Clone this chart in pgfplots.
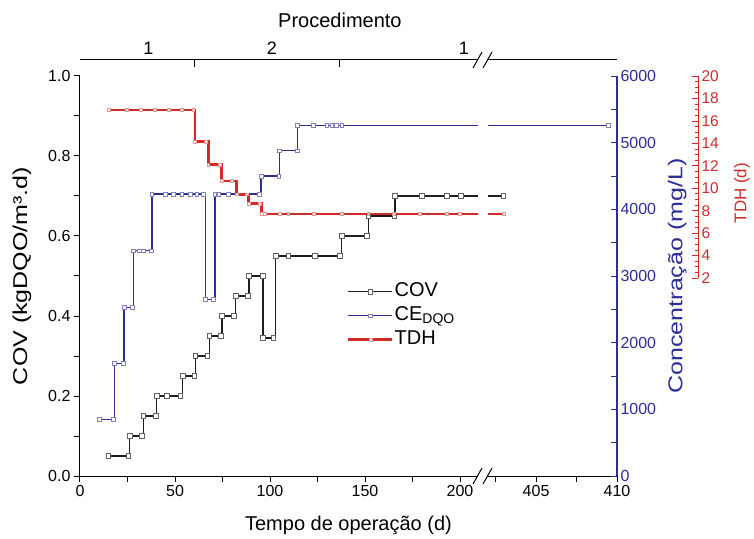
\documentclass[border=0pt]{standalone}
\usepackage{pgfplots}
\pgfplotsset{compat=1.18}
\usepackage{fontspec}
\setmainfont{Liberation Sans}
\definecolor{covc}{RGB}{30,30,30}
\definecolor{bluec}{RGB}{45,45,150}
\definecolor{redc}{RGB}{215,40,40}
\definecolor{redt}{RGB}{205,45,45}
\pgfplotsset{
  covstyle/.style={color=covc, line width=1.3pt, mark=square*, mark size=2.4pt,
    mark options={fill=white, draw=covc!70, line width=0.6pt, solid}},
  bluestyle/.style={color=bluec, line width=1.6pt, mark=square*, mark size=1.9pt,
    mark options={fill=white, draw=bluec!60, line width=0.5pt, solid}},
  redstyle/.style={color=redc, line width=2.6pt, mark=square*, mark size=1.4pt,
    mark options={fill=white, draw=redc!50, line width=0.4pt, solid}},
  base/.style={scale only axis, width=537pt, height=400pt, xmin=0, xmax=282.6,
    at={(0pt,0pt)}, anchor=south west},
}
\begin{document}
\begin{tikzpicture}
\useasboundingbox (-80pt,-62pt) rectangle (674pt,476pt);
% ---------- main axis: COV ----------
\begin{axis}[base,
  ymin=0, ymax=1,
  axis x line*=bottom, axis y line*=left,
  axis line style={line width=1pt, -},
  tick align=outside,
  xtick={0,50,100,150,200,240,282.6}, xticklabels={0,50,100,150,200,405,410},
  minor xtick={25,75,125,175,218.7,261.3},
  ytick={0,0.2,0.4,0.6,0.8,1.0}, yticklabels={0.0,0.2,0.4,0.6,0.8,1.0},
  minor ytick={0.1,0.3,0.5,0.7,0.9},
  major tick length=6pt, minor tick length=6pt,
  tick style={line width=1pt, black},
  ticklabel style={font=\fontsize{16}{18}\selectfont},
  xlabel={Tempo de operação (d)}, ylabel={\scalebox{1.25}[1]{COV (kgDQO/m³.d)}},
  label style={font=\fontsize{20}{24}\selectfont},
  xlabel style={at={(axis description cs:0.5,-0.1225)}, anchor=center},
  ylabel style={at={(axis description cs:-0.108,0.5)}, anchor=center},
  legend style={at={(axis description cs:0.497,0.4875)}, anchor=north west,
    draw=none, fill=none, font=\fontsize{20}{24}\selectfont, row sep=3pt,
    inner sep=0pt, nodes={inner sep=1pt, text height=14pt, text depth=5pt}},
  legend cell align=left,
  legend image code/.code={\draw[mark repeat=2,mark phase=2,#1] plot coordinates {(0pt,0pt) (22pt,0pt) (44pt,0pt)};},
]
\addplot[covstyle, const plot, forget plot] coordinates {
(14.9,0.05) (25.4,0.05) (26,0.10) (32.4,0.10) (33.3,0.15) (40,0.15)
(40.4,0.20) (45.6,0.20) (52.8,0.20) (54,0.25) (60.1,0.25) (60.7,0.30) (67,0.30)
(68,0.35) (74.1,0.35) (74.8,0.40) (81,0.40) (81.9,0.45) (88.3,0.45)
(89,0.50) (96,0.50) (96.3,0.345) (101.7,0.345) (103,0.55) (109.6,0.55)
(123.5,0.55) (136.8,0.55) (137.7,0.60) (150.9,0.60) (151.7,0.65) (165.4,0.65)
(165.8,0.70) (179.8,0.70) (193,0.70) (200.5,0.70) (222.8,0.70)};
\addlegendimage{covstyle}
\addlegendentry{COV}
\addlegendimage{bluestyle}
\addlegendentry{CE\textsubscript{DQO}}
\addlegendimage{redstyle}
\addlegendentry{TDH}
\end{axis}
% ---------- blue axis: concentration ----------
\begin{axis}[base,
  ymin=0, ymax=6000,
  axis x line=none, axis y line*=right,
  axis line style={bluec, line width=1.2pt, -},
  ytick={0,1000,2000,3000,4000,5000,6000},
  yticklabels={0,1000,2000,3000,4000,5000,6000},
  minor ytick={500,1500,2500,3500,4500,5500},
  tick align=inside, major tick length=6pt, minor tick length=6pt,
  tick style={bluec, line width=1pt},
  yticklabel style={font=\fontsize{16}{18}\selectfont, text=bluec},
  ylabel={\scalebox{1.25}[1]{Concentração (mg/L)}},
  ylabel style={font=\fontsize{20}{24}\selectfont, text=bluec,
    at={(axis description cs:1.112,0.5)}, anchor=center},
]
\addplot[bluestyle, const plot] coordinates {
(10.2,850) (17.5,850) (18.2,1690) (22.8,1690) (23.2,2530) (27.7,2530)
(28.2,3380) (31,3380) (33.3,3380) (37.4,3380) (37.8,4230) (44.7,4230)
(49,4230) (53.5,4230) (57.9,4230) (61.4,4230) (64.9,4230) (66.1,2650)
(70.3,2650) (70.9,4230) (73,4230) (78,4230) (94.5,4230) (95.3,4500)
(104.6,4500) (104.9,4880) (114.2,4880) (114.5,5260) (122.8,5260)
(129.8,5260) (132.5,5260) (135,5260) (137.7,5260) (278,5260)};
\end{axis}
% ---------- red data axis: TDH ----------
\begin{axis}[base, height=202pt, at={(0pt,198pt)},
  ymin=2, ymax=20, hide axis]
\addplot[redstyle, const plot] coordinates {
(15,16.97) (24.6,16.97) (32.1,16.97) (39.5,16.97) (46.5,16.97) (53.5,16.97)
(59.6,16.97) (60.5,14.14) (66,14.14) (67.5,12.13) (73.7,12.13) (74.6,10.64)
(79.8,10.64) (82.3,9.46) (87.9,9.46) (88.7,8.62) (94.7,8.62) (95.6,7.7)
(97.4,7.7) (105.3,7.7) (109.6,7.7) (122.8,7.7) (137.7,7.7) (151.7,7.7)
(164.9,7.7) (178.9,7.7) (193,7.7) (200,7.7) (222.8,7.7)};
\end{axis}
% ---------- red axis decoration ----------
\begin{axis}[scale only axis, width=20pt, height=202pt, at={(598pt,198pt)},
  anchor=south west, xmin=0, xmax=1, ymin=2, ymax=20,
  axis x line=none, axis y line*=right,
  axis line style={redc, line width=0.8pt, -},
  ytick={2,4,6,8,10,12,14,16,18,20},
  yticklabels={2,4,6,8,10,12,14,16,18,20},
  minor tick num=3,
  tick align=inside, major tick length=6pt, minor tick length=3.5pt,
  tick style={redc, line width=0.7pt},
  yticklabel style={font=\fontsize{15.5}{17}\selectfont, text=redt},
  ylabel={TDH (d)},
  ylabel style={font=\fontsize{17}{19}\selectfont, text=redt,
    at={(axis description cs:3.2,0.42)}, anchor=center},
]
\end{axis}
% ---------- top axis: Procedimento ----------
\begin{axis}[scale only axis, width=537pt, height=416pt, at={(0pt,0pt)},
  anchor=south west, xmin=0, xmax=282.6, ymin=0, ymax=1,
  axis y line=none, axis x line*=top,
  axis line style={line width=1pt, -},
  xtick={60.5,136.8}, xticklabels={,},
  tick align=inside, major tick length=7pt,
  tick style={line width=1pt, black},
  extra x ticks={36,101,202}, extra x tick labels={1,2,1},
  extra x tick style={major tick length=0pt},
  xticklabel style={font=\fontsize{18}{20}\selectfont, yshift=2pt},
  xlabel={Procedimento},
  xlabel style={font=\fontsize{20}{24}\selectfont,
    at={(axis description cs:0.484,1.096)}, anchor=center},
]
\end{axis}
% ---------- axis break ----------
\fill[white] (398pt,-1.5pt) rectangle (408pt,418pt);
\foreach \y in {0,416}{
  \draw[line width=1pt] (393pt,\y pt-8pt) -- (402pt,\y pt+8pt);
  \draw[line width=1pt] (403pt,\y pt-8pt) -- (412pt,\y pt+8pt);
}
\end{tikzpicture}
\end{document}
